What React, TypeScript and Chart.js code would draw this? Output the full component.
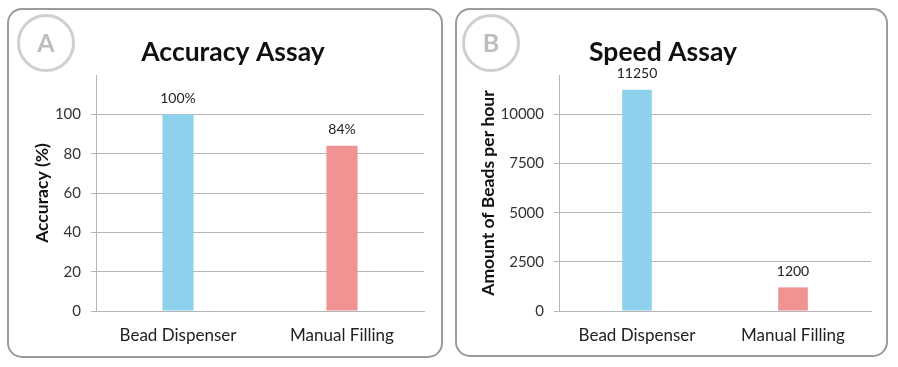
import React, { useEffect, useRef } from "react";
import { Chart, registerables } from "chart.js";

Chart.register(...registerables);

const categories = ["Bead Dispenser", "Manual Filling"];
const accuracyValues = [100, 84];
const accuracyValueLabels = ["100%", "84%"];
const accuracyTicks = [0, 20, 40, 60, 80, 100];
const speedValues = [11250, 1200];
const speedValueLabels = ["11250", "1200"];
const speedTicks = [0, 2500, 5000, 7500, 10000];
const barColors = ["#8ED1EC", "#F09393"];

const FONT = "Lato, 'Open Sans', sans-serif";
const GRID = "#b5b5b5";

type PanelCfg = {
  letter: string;
  title: string;
  titleX: number;
  yTitle: string;
  values: number[];
  valueLabels: string[];
  ticks: number[];
  max: number;
  yWidth: number;
  padRight: number;
  yTitleX: number;
  badgeX: number;
  left: number;
};

const panels: PanelCfg[] = [
  {
    letter: "A",
    title: "Accuracy Assay",
    titleX: 233,
    yTitle: "Accuracy (%)",
    values: accuracyValues,
    valueLabels: accuracyValueLabels,
    ticks: accuracyTicks,
    max: 120,
    yWidth: 96,
    padRight: 25,
    yTitleX: 42,
    badgeX: 46,
    left: 0,
  },
  {
    letter: "B",
    title: "Speed Assay",
    titleX: 214,
    yTitle: "Amount of Beads per hour",
    values: speedValues,
    valueLabels: speedValueLabels,
    ticks: speedTicks,
    max: 12000,
    yWidth: 110,
    padRight: 27,
    yTitleX: 39,
    badgeX: 42,
    left: 449,
  },
];

function ChartPanel({ cfg }: { cfg: PanelCfg }) {
  const ref = useRef<HTMLCanvasElement | null>(null);
  useEffect(() => {
    if (!ref.current) return;
    const decor = {
      id: "decor",
      afterDraw(chart: any) {
        const ctx = chart.ctx;
        ctx.save();
        ctx.beginPath();
        ctx.arc(cfg.badgeX, 43, 27.5, 0, Math.PI * 2);
        ctx.strokeStyle = "#cfcfcf";
        ctx.lineWidth = 3;
        ctx.stroke();
        ctx.fillStyle = "#bdbdbd";
        ctx.font = `bold 25px ${FONT}`;
        ctx.textAlign = "center";
        ctx.textBaseline = "middle";
        ctx.fillText(cfg.letter, cfg.badgeX, 44);
        ctx.fillStyle = "#111";
        ctx.font = `bold 26.5px ${FONT}`;
        ctx.fillText(cfg.title, cfg.titleX, 52);
        const meta = chart.getDatasetMeta(0);
        ctx.font = `14px ${FONT}`;
        ctx.fillStyle = "#222";
        meta.data.forEach((el: any, i: number) => {
          ctx.fillText(cfg.valueLabels[i], el.x, el.y - 16);
        });
        ctx.restore();
      },
    };
    const chart = new Chart(ref.current, {
      type: "bar",
      data: {
        labels: categories,
        datasets: [
          {
            data: cfg.values,
            backgroundColor: barColors,
            barPercentage: 0.19,
            categoryPercentage: 1,
          },
        ],
      },
      options: {
        responsive: false,
        animation: false,
        layout: { padding: { top: 75, right: cfg.padRight, bottom: 10, left: 0 } },
        plugins: { legend: { display: false }, tooltip: { enabled: false }, title: { display: false } },
        scales: {
          x: {
            grid: { display: false, drawTicks: false },
            border: { display: true, color: GRID, width: 1 },
            ticks: { padding: 14, color: "#222", font: { family: FONT, size: 17 } },
            afterFit: (s: any) => {
              s.height = 46;
            },
          },
          y: {
            min: 0,
            max: cfg.max,
            afterBuildTicks: (s: any) => {
              s.ticks = cfg.ticks.map((v) => ({ value: v }));
            },
            ticks: {
              padding: 10,
              color: "#333",
              font: { family: FONT, size: 15 },
              callback: (v: any) => String(v),
            },
            grid: {
              tickLength: 5,
              color: GRID,
            },
            border: { display: true, color: GRID, width: 1 },
            title: {
              display: true,
              text: cfg.yTitle,
              color: "#111",
              font: { family: FONT, size: 17.5, weight: "bold" },
              padding: { top: cfg.yTitleX - 10.5, bottom: 0 },
            },
            afterFit: (s: any) => {
              s.width = cfg.yWidth;
            },
          },
        },
      },
      plugins: [decor],
    } as any);
    return () => chart.destroy();
  }, [cfg]);
  return (
    <canvas
      ref={ref}
      width={449}
      height={367}
      style={{ position: "absolute", left: cfg.left, top: 0, width: 449, height: 367 }}
    />
  );
}

export default function App() {
  return (
    <div style={{ position: "fixed", left: 0, top: 0, width: 898, height: 367, background: "#fff", overflow: "hidden" }}>
      <div
        style={{
          position: "absolute",
          left: 7,
          top: 8,
          width: 432,
          height: 346,
          border: "2px solid #9b9b9b",
          borderRadius: 15,
        }}
      />
      <div
        style={{
          position: "absolute",
          left: 455,
          top: 8,
          width: 429,
          height: 345,
          border: "2px solid #9b9b9b",
          borderRadius: 15,
        }}
      />
      {panels.map((p) => (
        <ChartPanel key={p.letter} cfg={p} />
      ))}
    </div>
  );
}
